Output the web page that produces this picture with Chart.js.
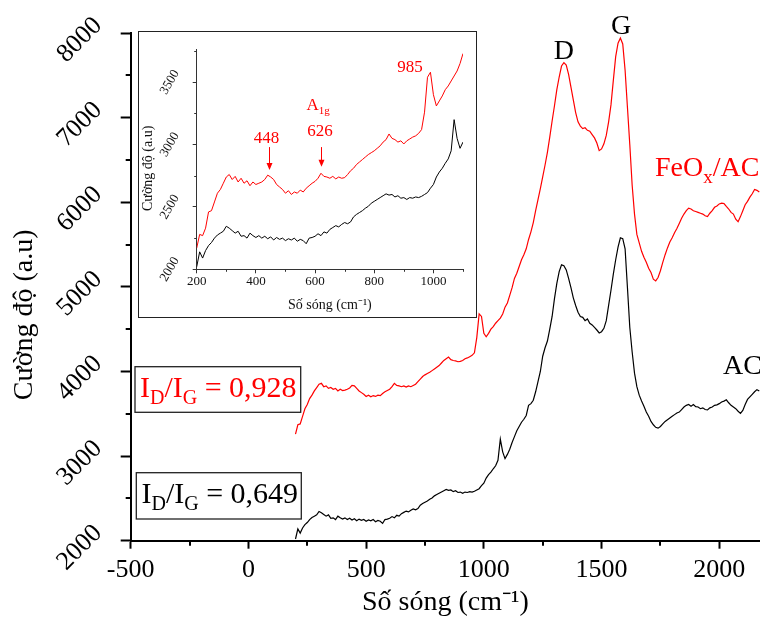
<!DOCTYPE html>
<html>
<head>
<meta charset="utf-8">
<script src="https://cdn.jsdelivr.net/npm/chart.js@4.4.1/dist/chart.umd.min.js"></script>
<style>
  html, body { margin: 0; padding: 0; background: #fff; }
  #wrap { position: relative; width: 760px; height: 627px; overflow: hidden; background: #fff; }
  #mainCanvas { position: absolute; left: 0; top: 0; }
  #insetBox { position: absolute; left: 138px; top: 31px; width: 339px; height: 287px;
              border: 1px solid #222; box-sizing: border-box; background: #fff; }
  #insetCanvas { display: block; }
</style>
</head>
<body>
<div id="wrap">
  <canvas id="mainCanvas" width="760" height="627"></canvas>
  <div id="insetBox"><canvas id="insetCanvas" width="337" height="285"></canvas></div>
</div>
<script>
// ---------------- DATA ----------------
// Raman shift grid (cm^-1): 200 ... 2170, every 10
const waveStart = 200;
const waveStep = 10;

// AC spectrum (black), 200 - 2170 cm^-1
const acIntensity = [
  2020,2140,2090,2150,2190,2215,2250,2275,2290,2305,
  2345,2330,2310,2290,2305,2265,2270,2250,2290,2270,
  2255,2270,2250,2265,2245,2260,2235,2255,2240,2250,
  2230,2245,2235,2250,2225,2240,2230,2205,2250,2255,
  2265,2285,2270,2300,2290,2320,2335,2350,2340,2360,
  2375,2365,2380,2420,2440,2455,2470,2490,2505,2530,
  2545,2560,2575,2590,2605,2595,2600,2580,2590,2570,
  2575,2560,2575,2570,2580,2575,2585,2600,2615,2650,
  2680,2740,2780,2810,2850,2885,2950,3200,3050,2970,
  3020,3080,3160,3230,3300,3350,3400,3435,3480,3600,
  3620,3660,3760,3880,4000,4180,4280,4360,4500,4650,
  4860,5040,5180,5260,5250,5200,5100,4990,4870,4780,
  4700,4650,4640,4600,4620,4570,4550,4520,4490,4455,
  4470,4510,4600,4780,4960,5150,5320,5470,5580,5570,
  5450,4990,4520,4230,3980,3820,3720,3650,3590,3520,
  3470,3410,3370,3340,3330,3350,3380,3410,3430,3450,
  3470,3490,3510,3520,3550,3580,3600,3610,3590,3610,
  3585,3580,3560,3570,3550,3545,3570,3580,3600,3605,
  3620,3640,3650,3665,3630,3600,3580,3560,3530,3505,
  3540,3610,3670,3700,3730,3760,3785,3770
];

// FeOx/AC spectrum (red) as plotted in the main panel, 200 - 2170 cm^-1
const feoxIntensity = [
  3260,3370,3380,3470,3560,3610,3680,3720,3770,3810,
  3850,3860,3820,3830,3800,3810,3790,3800,3770,3790,
  3775,3780,3790,3805,3835,3830,3800,3770,3750,3730,
  3705,3720,3700,3715,3705,3720,3715,3740,3760,3775,
  3790,3820,3860,3835,3830,3820,3830,3815,3830,3820,
  3835,3850,3880,3910,3940,3960,3975,3990,4010,4030,
  4050,4070,4100,4130,4150,4170,4140,4130,4125,4115,
  4120,4130,4150,4160,4175,4190,4220,4400,4680,4650,
  4450,4410,4450,4500,4530,4570,4600,4630,4680,4760,
  4810,4900,4990,5100,5160,5240,5320,5380,5450,5560,
  5650,5760,5900,6030,6160,6300,6440,6590,6770,6960,
  7140,7330,7480,7610,7650,7620,7510,7360,7210,7060,
  6950,6900,6870,6880,6850,6840,6800,6760,6700,6610,
  6630,6690,6790,6950,7150,7440,7720,7880,7940,7870,
  7560,7120,6680,6200,5860,5620,5520,5420,5350,5290,
  5220,5170,5090,5070,5110,5190,5290,5380,5460,5530,
  5580,5640,5690,5750,5810,5860,5900,5930,5920,5900,
  5890,5880,5870,5860,5840,5830,5870,5900,5940,5955,
  5980,5990,5985,5950,5920,5880,5860,5800,5770,5830,
  5900,5970,6010,6060,6100,6150,6140,6120
];

// FeOx/AC spectrum (red) as plotted in the inset, 200 - 1100 cm^-1
const feoxInsetIntensity = [
  2170,2280,2270,2330,2460,2470,2540,2610,2640,2690,
  2740,2760,2720,2745,2700,2730,2690,2710,2670,2700,
  2680,2690,2700,2720,2755,2740,2720,2680,2660,2640,
  2610,2630,2600,2620,2610,2635,2620,2650,2670,2690,
  2705,2730,2770,2745,2740,2730,2745,2725,2740,2730,
  2735,2760,2790,2810,2840,2860,2880,2900,2920,2935,
  2950,2970,2990,3020,3040,3085,3050,3040,3020,3030,
  3005,3030,3045,3060,3070,3090,3120,3260,3540,3580,
  3400,3310,3350,3390,3440,3470,3510,3550,3590,3650,
  3730
];
const insetLastWave = 1100;

// Axis tick labels
const mainXTicks = [-500, 0, 500, 1000, 1500, 2000];
const mainYTicks = [2000, 3000, 4000, 5000, 6000, 7000, 8000];
const mainXMinor = [-250, 250, 750, 1250, 1750];
const mainYMinor = [2500, 3500, 4500, 5500, 6500, 7500];
const insetXTicks = [200, 400, 600, 800, 1000];
const insetYTicks = [2000, 2500, 3000, 3500];
const insetXMinor = [300, 500, 700, 900, 1100];
const insetYMinor = [2250, 2750, 3250, 3750];

// Texts
const xTitle = 'Số sóng (cm⁻¹)';
const yTitle = 'Cường độ (a.u)';
const seriesNames = ['AC', 'FeOx/AC'];
const peakNames = ['D', 'G'];
const ratioValues = ['0,928', '0,649'];
const insetPeakNames = ['448', '626', '985'];

// ---------------- BUILD ----------------
const waves = acIntensity.map((_, i) => waveStart + i * waveStep);
const toXY = (arr) => arr.map((y, i) => ({ x: waves[i], y }));
const acPoints = toXY(acIntensity);
const feoxPoints = toXY(feoxIntensity);
const acInsetPoints = acPoints.filter(p => p.x <= insetLastWave);
const feoxInsetPoints = toXY(feoxInsetIntensity);

const SERIF = '"Liberation Serif", "Times New Roman", serif';
Chart.defaults.font.family = SERIF;
Chart.defaults.color = '#000';

function useTicks(list) {
  return (s) => { s.ticks = list.map(v => ({ value: v })); };
}
const plainLabel = v => String(v);

const minorTicksPlugin = {
  id: 'minorTicks',
  afterDraw(chart, args, opts) {
    const ctx = chart.ctx;
    ctx.save();
    ['x', 'y'].forEach(axis => {
      const cfg = opts[axis];
      if (!cfg) return;
      const s = chart.scales[axis];
      ctx.strokeStyle = cfg.color;
      ctx.lineWidth = cfg.width;
      ctx.beginPath();
      cfg.values.forEach(v => {
        const p = Math.round(s.getPixelForValue(v)) + (cfg.width % 2 ? 0.5 : 0);
        if (axis === 'x') { ctx.moveTo(p, s.top); ctx.lineTo(p, s.top + cfg.length); }
        else { ctx.moveTo(s.right, p); ctx.lineTo(s.right - cfg.length, p); }
      });
      ctx.stroke();
    });
    ctx.restore();
  }
};

// rich text: parts = [text, size, dy]
function drawRich(ctx, parts, x, y, align, color) {
  ctx.save();
  ctx.fillStyle = color;
  ctx.textBaseline = 'alphabetic';
  ctx.textAlign = 'left';
  let total = 0;
  parts.forEach(p => { ctx.font = p[1] + 'px ' + SERIF; total += ctx.measureText(p[0]).width; });
  let cx = align === 'center' ? x - total / 2 : x;
  parts.forEach(p => {
    ctx.font = p[1] + 'px ' + SERIF;
    ctx.fillText(p[0], cx, y + (p[2] || 0));
    cx += ctx.measureText(p[0]).width;
  });
  ctx.restore();
}

const mainNotes = {
  id: 'mainNotes',
  afterDraw(chart) {
    const ctx = chart.ctx, sx = chart.scales.x, sy = chart.scales.y;
    const px = v => sx.getPixelForValue(v), py = v => sy.getPixelForValue(v);
    drawRich(ctx, [[peakNames[0], 28]], px(1340), py(7695), 'center', '#000');
    drawRich(ctx, [[peakNames[1], 28]], px(1583), py(7991), 'center', '#000');
    drawRich(ctx, [['FeO', 28], ['x', 19, 7], ['/AC', 28]], px(1727), py(6306), 'left', '#ff0000');
    drawRich(ctx, [[seriesNames[0], 28]], px(2016), py(3972), 'left', '#000');
    const boxes = [
      { r: [135, 366.7, 165.7, 45.6], base: 396.7, tx: 140, color: '#ff0000', val: ratioValues[0] },
      { r: [136.3, 472.7, 165, 46.3], base: 502.7, tx: 141.5, color: '#000', val: ratioValues[1] }
    ];
    boxes.forEach(b => {
      ctx.save();
      ctx.fillStyle = '#fff';
      ctx.fillRect(b.r[0], b.r[1], b.r[2], b.r[3]);
      ctx.strokeStyle = '#222';
      ctx.lineWidth = 1.3;
      ctx.strokeRect(b.r[0], b.r[1], b.r[2], b.r[3]);
      ctx.restore();
      drawRich(ctx, [['I', 30], ['D', 20, 7], ['/I', 30], ['G', 20, 7], [' = ' + b.val, 30]], b.tx, b.base, 'left', b.color);
    });
  }
};

const insetNotes = {
  id: 'insetNotes',
  afterDraw(chart) {
    const ctx = chart.ctx, sx = chart.scales.x, sy = chart.scales.y;
    const px = v => sx.getPixelForValue(v), py = v => sy.getPixelForValue(v);
    const red = '#ff0000';
    drawRich(ctx, [[insetPeakNames[2], 17]], px(921), py(3579), 'center', red);
    drawRich(ctx, [[insetPeakNames[0], 17]], px(436), py(3015), 'center', red);
    drawRich(ctx, [['A', 17], ['1g', 11, 4]], px(571), py(3279), 'left', red);
    drawRich(ctx, [[insetPeakNames[1], 17]], px(617), py(3066), 'center', red);
    [[443, 2980, 2797], [620, 2980, 2823]].forEach(a => {
      const x = Math.round(px(a[0])) + 0.5, y1 = py(a[1]), y2 = py(a[2]);
      ctx.save();
      ctx.strokeStyle = red; ctx.fillStyle = red; ctx.lineWidth = 1;
      ctx.beginPath(); ctx.moveTo(x, y1); ctx.lineTo(x, y2 - 5); ctx.stroke();
      ctx.beginPath(); ctx.moveTo(x - 3, y2 - 7); ctx.lineTo(x + 3, y2 - 7); ctx.lineTo(x, y2); ctx.closePath(); ctx.fill();
      ctx.restore();
    });
  }
};

// ---------------- MAIN CHART ----------------
new Chart(document.getElementById('mainCanvas'), {
  type: 'line',
  data: {
    datasets: [
      { label: seriesNames[0], data: acPoints, borderColor: '#000', borderWidth: 1.2, pointRadius: 0, tension: 0, fill: false },
      { label: seriesNames[1], data: feoxPoints, borderColor: '#ff0000', borderWidth: 1.2, pointRadius: 0, tension: 0, fill: false }
    ]
  },
  options: {
    responsive: false, animation: false, devicePixelRatio: 1,
    layout: { padding: { top: 33, left: 0, right: 0, bottom: 0 } },
    plugins: {
      legend: { display: false }, tooltip: { enabled: false },
      minorTicks: {
        x: { values: mainXMinor, length: 5, width: 2, color: '#000' },
        y: { values: mainYMinor, length: 5, width: 2, color: '#000' }
      }
    },
    scales: {
      x: {
        type: 'linear', min: -500, max: 2173,
        afterBuildTicks: useTicks(mainXTicks),
        afterFit: s => { s.height = 86.3; },
        ticks: { autoSkip: false, maxRotation: 0, padding: 6, color: '#000', callback: plainLabel,
                 font: { family: SERIF, size: 26 } },
        grid: { drawOnChartArea: false, tickLength: 8, tickWidth: 2, tickColor: '#000' },
        border: { color: '#000', width: 2 },
        title: { display: true, text: xTitle, color: '#000', font: { family: SERIF, size: 28 },
                 padding: { top: 0, bottom: 8 } }
      },
      y: {
        type: 'linear', min: 2000, max: 8000,
        afterBuildTicks: useTicks(mainYTicks),
        afterFit: s => { s.width = 130.7; },
        ticks: { autoSkip: false, minRotation: 45, maxRotation: 45, crossAlign: 'center', callback: plainLabel,
                 padding: 15, labelOffset: 7, color: '#000', font: { family: SERIF, size: 26 } },
        grid: { drawOnChartArea: false, tickLength: 10, tickWidth: 2, tickColor: '#000' },
        border: { color: '#000', width: 2 },
        title: { display: true, text: yTitle + '        ', color: '#000', font: { family: SERIF, size: 28 },
                 padding: { top: 8, bottom: 0 } }
      }
    }
  },
  plugins: [minorTicksPlugin, mainNotes]
});

// ---------------- INSET CHART ----------------
new Chart(document.getElementById('insetCanvas'), {
  type: 'line',
  data: {
    datasets: [
      { label: seriesNames[0], data: acInsetPoints, borderColor: '#000', borderWidth: 1, pointRadius: 0, tension: 0, fill: false },
      { label: seriesNames[1], data: feoxInsetPoints, borderColor: '#ff0000', borderWidth: 1, pointRadius: 0, tension: 0, fill: false }
    ]
  },
  options: {
    responsive: false, animation: false, devicePixelRatio: 1,
    layout: { padding: { top: 14, left: 0, right: 13, bottom: 0 } },
    plugins: {
      legend: { display: false }, tooltip: { enabled: false },
      minorTicks: {
        x: { values: insetXMinor, length: 2.5, width: 1, color: '#333' },
        y: { values: insetYMinor, length: 2.5, width: 1, color: '#333' }
      }
    },
    scales: {
      x: {
        type: 'linear', min: 200, max: insetLastWave,
        afterBuildTicks: useTicks(insetXTicks),
        afterFit: s => { s.height = 47.7; },
        ticks: { autoSkip: false, maxRotation: 0, padding: 0, color: '#111', callback: plainLabel,
                 font: { family: SERIF, size: 13 } },
        grid: { drawOnChartArea: false, tickLength: 4, tickWidth: 1, tickColor: '#333' },
        border: { color: '#333', width: 1 },
        title: { display: true, text: xTitle, color: '#111', font: { family: SERIF, size: 14 },
                 padding: { top: 0, bottom: 3.5 } }
      },
      y: {
        type: 'linear', min: 2000, max: 3760,
        afterBuildTicks: useTicks(insetYTicks),
        afterFit: s => { s.width = 57.7; },
        ticks: { autoSkip: false, minRotation: 60, maxRotation: 60, crossAlign: 'center', callback: plainLabel,
                 padding: 10, color: '#111', font: { family: SERIF, size: 13 } },
        grid: { drawOnChartArea: false, tickLength: 4, tickWidth: 1, tickColor: '#333' },
        border: { color: '#333', width: 1 },
        title: { display: true, text: yTitle + '     ', color: '#111', font: { family: SERIF, size: 14 },
                 padding: { top: 0.6, bottom: 0 } }
      }
    }
  },
  plugins: [minorTicksPlugin, insetNotes]
});
</script>
</body>
</html>
